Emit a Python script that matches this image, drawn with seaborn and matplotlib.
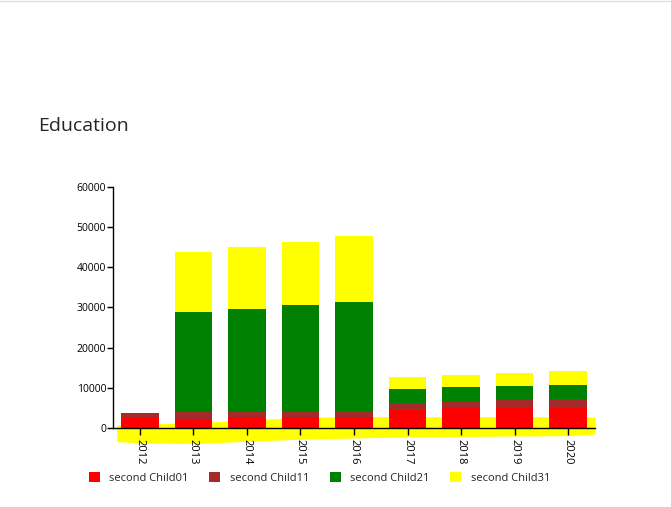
import numpy as np
import pandas as pd
import matplotlib
matplotlib.use("Agg")
import matplotlib.pyplot as plt
import seaborn as sns
from matplotlib.patches import Patch

years = ["2012", "2013", "2014", "2015", "2016", "2017", "2018", "2019", "2020"]
child01 = [2400, 2300, 2700, 2700, 2800, 4550, 4900, 5200, 5300]
child11 = [1400, 1700, 1400, 1400, 1500, 1800, 1650, 1700, 1900]
child21 = [0, 25000, 25600, 26600, 27100, 3350, 3550, 3450, 3500]
child31 = [0, 14900, 15400, 15700, 16500, 3100, 3200, 3350, 3400]
series_names = ["second Child01", "second Child11", "second Child21", "second Child31"]
series_colors = ["#ff0000", "#a52a2a", "#008000", "#ffff00"]

# the stray yellow band drawn behind the axis in the original
band_pos = [-0.43, 0, 1, 2, 3, 4, 5, 6, 7, 8, 8.5]
band_top = [700, 900, 1300, 2000, 2600, 2900, 2800, 2800, 2800, 2800, 2700]
band_bottom = [-3400, -3700, -3900, -3300, -2800, -2500, -2200, -2100, -2000, -1900, -1500]

df = pd.DataFrame({"year": years, "c01": child01, "c11": child11,
                   "c21": child21, "c31": child31})
df["s1"] = df["c01"]
df["s2"] = df["s1"] + df["c11"]
df["s3"] = df["s2"] + df["c21"]
df["s4"] = df["s3"] + df["c31"]

sns.set_style("white")
plt.rcParams["font.family"] = ["Open Sans", "DejaVu Sans"]

fig = plt.figure(figsize=(6.71, 5.07), dpi=100)
ax = fig.add_axes([0.1684, 0.1558, 0.7183, 0.4754])

ax.fill_between(band_pos, band_bottom, band_top, color="#ffff00", lw=0,
                zorder=0, clip_on=False)

for col, color in zip(["s4", "s3", "s2", "s1"], series_colors[::-1]):
    sns.barplot(data=df, x="year", y=col, color=color, width=0.7,
                saturation=1, linewidth=0, ax=ax, zorder=2)

ax.set_xlim(-0.5, 8.5)
ax.set_ylim(0, 60000)
ax.set_yticks([0, 10000, 20000, 30000, 40000, 50000, 60000])
ax.set_xlabel("")
ax.set_ylabel("")
ax.tick_params(axis="x", labelrotation=-90, labelsize=8, length=5, width=1,
               color="black", labelcolor="black", direction="out", pad=3,
               bottom=True)
ax.tick_params(axis="y", labelsize=7.5, length=4, width=1, color="black",
               labelcolor="black", direction="out", pad=1, left=True)
for lab in ax.get_xticklabels():
    lab.set_verticalalignment("top")
for side in ["top", "right"]:
    ax.spines[side].set_visible(False)
for side in ["left", "bottom"]:
    ax.spines[side].set_color("black")
    ax.spines[side].set_linewidth(1)
    ax.spines[side].set_zorder(5)

fig.text(0.057, 0.752, "Education", fontsize=14, ha="left", va="center")

handles = [Patch(facecolor=c, edgecolor="none") for c in series_colors]
fig.legend(handles, series_names, loc="center left",
           bbox_to_anchor=(0.1175, 0.057), ncol=4, frameon=False, fontsize=8,
           handlelength=1.0, handleheight=1.0, handletextpad=0.85,
           columnspacing=1.85)

fig.add_artist(plt.Line2D([0, 1], [0.999, 0.999], color="#dddddd", lw=1))

fig.savefig("out.png", dpi=100)
